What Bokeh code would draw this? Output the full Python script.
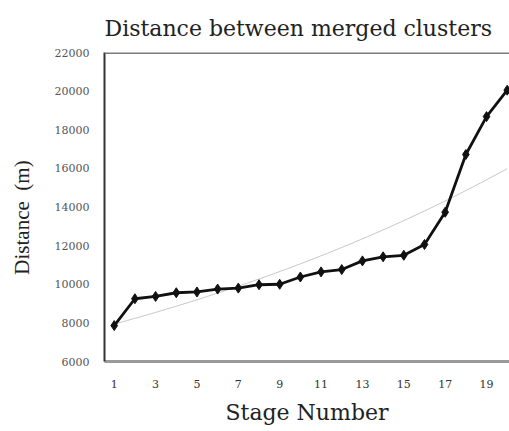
import numpy as np
from bokeh.plotting import figure
from bokeh.models import Range1d, FixedTicker, Span
from bokeh.embed import file_html
from bokeh.resources import INLINE

title_text = "Distance between merged clusters"
stages = list(range(1, 21))
distance = [7860, 9250, 9370, 9560, 9600, 9750, 9800, 9975, 10000, 10375,
            10640, 10760, 11210, 11420, 11500, 12060, 13730, 16720, 18680, 20050]
x_ticks = [1, 3, 5, 7, 9, 11, 13, 15, 17, 19]
y_ticks = [6000, 8000, 10000, 12000, 14000, 16000, 18000, 20000, 22000]

# exponential trend line fitted to the data
b, a = np.polyfit(np.array(stages, dtype=float), np.log(np.array(distance, dtype=float)), 1)
trend_x = np.linspace(stages[0], stages[-1], 60)
trend_y = np.exp(a + b * trend_x)

x_range = Range1d(0.53, 20.11)
y_range = Range1d(6000, 22000)
p = figure(width=509, height=431, output_backend="svg", toolbar_location=None,
           x_range=x_range, y_range=y_range, title=title_text,
           min_border_left=104, min_border_right=0, min_border_top=52, min_border_bottom=70)
p.background_fill_color = "white"
p.border_fill_color = "white"
p.outline_line_color = None
p.grid.visible = False

p.title.align = "left"
p.title.text_font = "DejaVu Serif"
p.title.text_font_size = "22px"
p.title.text_font_style = "normal"
p.title.text_color = "#222222"
p.title.standoff = 24

p.add_layout(Span(location=y_range.end, dimension="width", line_color="#7a7a7a", line_width=3))

p.line(trend_x, trend_y, line_color="#c8c8c8", line_width=1)
p.line(stages, distance, line_color="#111111", line_width=2.8)
p.scatter(stages, distance, marker="diamond", size=10, fill_color="#111111", line_color="#111111")

xa = p.xaxis[0]
xa.ticker = FixedTicker(ticks=x_ticks)
xa.axis_line_color = "#9a9a9a"
xa.axis_line_width = 3
xa.major_tick_line_color = None
xa.minor_tick_line_color = None
xa.major_label_text_font = "DejaVu Serif"
xa.major_label_text_font_size = "11px"
xa.major_label_text_color = "#333333"
xa.major_label_standoff = 12
xa.axis_label = "Stage Number"
xa.axis_label_text_font = "DejaVu Serif"
xa.axis_label_text_font_size = "22px"
xa.axis_label_text_font_style = "normal"
xa.axis_label_text_color = "#222222"
xa.axis_label_standoff = 9

ya = p.yaxis[0]
ya.ticker = FixedTicker(ticks=y_ticks)
ya.axis_line_color = "#333333"
ya.axis_line_width = 2
ya.major_tick_line_color = None
ya.minor_tick_line_color = None
ya.major_label_text_font = "DejaVu Serif"
ya.major_label_text_font_size = "11px"
ya.major_label_text_color = "#555555"
ya.major_label_standoff = 9
ya.axis_label = "Distance\u00a0 (m)\u00a0\u00a0\u00a0\u00a0"
ya.axis_label_text_font = "Liberation Serif"
ya.axis_label_text_font_size = "21px"
ya.axis_label_text_font_style = "normal"
ya.axis_label_text_color = "#222222"
ya.axis_label_standoff = 18

open("out.html", "w").write(file_html(p, INLINE))
